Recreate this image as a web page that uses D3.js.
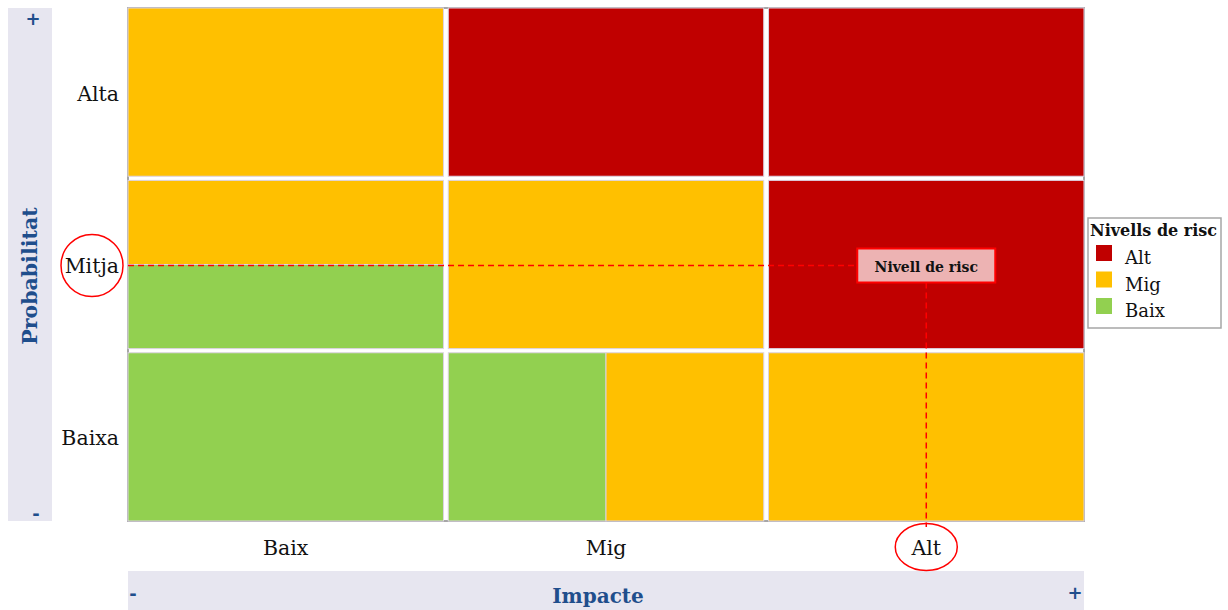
<!DOCTYPE html>
<html><head><meta charset="utf-8">
<script src="https://cdn.jsdelivr.net/npm/d3@7"></script>
<style>
html,body{margin:0;padding:0;background:#fff;}
svg{display:block;}
</style></head>
<body>
<svg id="chart" width="1228" height="610"></svg>
<script>
// ---- data ----
const impactCats = ["Baix", "Mig", "Alt"];
const probCats = ["Alta", "Mitja", "Baixa"];
const riskLevels = ["Alt", "Mig", "Baix"];
const riskColors = ["#C00000", "#FFC000", "#92D050"];
// each cell: impact, probability, split direction, parts (level, share)
const cells = [
  {impact: "Baix", prob: "Alta",  dir: "v", parts: [["Mig", 1]]},
  {impact: "Mig",  prob: "Alta",  dir: "v", parts: [["Alt", 1]]},
  {impact: "Alt",  prob: "Alta",  dir: "v", parts: [["Alt", 1]]},
  {impact: "Baix", prob: "Mitja", dir: "v", parts: [["Mig", 0.5], ["Baix", 0.5]]},
  {impact: "Mig",  prob: "Mitja", dir: "v", parts: [["Mig", 1]]},
  {impact: "Alt",  prob: "Mitja", dir: "v", parts: [["Alt", 1]]},
  {impact: "Baix", prob: "Baixa", dir: "h", parts: [["Baix", 1]]},
  {impact: "Mig",  prob: "Baixa", dir: "h", parts: [["Baix", 0.5], ["Mig", 0.5]]},
  {impact: "Alt",  prob: "Baixa", dir: "h", parts: [["Mig", 1]]}
];
const marker = {impact: "Alt", prob: "Mitja", label: "Nivell de risc"};
const axisTitles = {x: "Impacte", y: "Probabilitat", legend: "Nivells de risc"};

// ---- drawing ----
const svg = d3.select("#chart");
const serif = "'DejaVu Serif', 'Liberation Serif', serif";
const blue = "#1F4E8C";
const plot = {x0: 128, x1: 1084, y0: 8, y1: 521};

const x = d3.scaleBand().domain(impactCats).range([plot.x0, plot.x1]).paddingInner(0.015);
const y = d3.scaleBand().domain(probCats).range([plot.y0, plot.y1]).paddingInner(0.024);
const color = d3.scaleOrdinal().domain(riskLevels).range(riskColors);

// side bands
svg.append("rect").attr("x", 8).attr("y", 8).attr("width", 44).attr("height", 513).attr("fill", "#E7E6F0");
svg.append("rect").attr("x", plot.x0).attr("y", 571).attr("width", plot.x1 - plot.x0).attr("height", 39).attr("fill", "#E7E6F0");

// plot frame
svg.append("rect").attr("x", plot.x0).attr("y", plot.y0)
  .attr("width", plot.x1 - plot.x0).attr("height", plot.y1 - plot.y0)
  .attr("fill", "#fff").attr("stroke", "#A6A6A6").attr("stroke-width", 2);

// cells
const segs = [];
cells.forEach(c => {
  const cx = x(c.impact), cy = y(c.prob), w = x.bandwidth(), h = y.bandwidth();
  let acc = 0;
  c.parts.forEach(([lvl, share]) => {
    if (c.dir === "v") segs.push({lvl, x: cx, y: cy + acc * h, w, h: share * h});
    else segs.push({lvl, x: cx + acc * w, y: cy, w: share * w, h});
    acc += share;
  });
});
svg.append("g").selectAll("rect").data(segs).join("rect")
  .attr("x", d => d.x).attr("y", d => d.y).attr("width", d => d.w).attr("height", d => d.h)
  .attr("fill", d => color(d.lvl)).attr("stroke", "#DCD3E3").attr("stroke-width", 1);

// axis labels
const yAxis = d3.axisLeft(y).tickSize(0).tickPadding(9);
const gy = svg.append("g").attr("transform", `translate(${plot.x0},2)`).call(yAxis);
gy.select(".domain").remove();
gy.selectAll("text").attr("font-family", serif).attr("font-size", 20.5).attr("fill", "#111");

const xAxis = d3.axisBottom(x).tickSize(0).tickPadding(19);
const gx = svg.append("g").attr("transform", `translate(0,${plot.y1})`).call(xAxis);
gx.select(".domain").remove();
gx.selectAll("text").attr("font-family", serif).attr("font-size", 20.5).attr("fill", "#111");

// +/- signs and titles
const sign = (sx, sy, t) => svg.append("text").attr("x", sx).attr("y", sy).attr("text-anchor", "middle")
  .attr("dominant-baseline", "central").attr("font-family", "'DejaVu Sans', sans-serif")
  .attr("font-weight", "bold").attr("font-size", 18).attr("fill", blue).text(t);
sign(33, 18, "+"); sign(36, 513, "-"); sign(133, 593, "-"); sign(1075, 592, "+");

svg.append("text").attr("transform", "translate(30,276) rotate(-90)").attr("text-anchor", "middle")
  .attr("dominant-baseline", "central").attr("font-family", serif).attr("font-weight", "bold")
  .attr("font-size", 20.5).attr("fill", blue).text(axisTitles.y);
svg.append("text").attr("x", 598).attr("y", 596).attr("text-anchor", "middle")
  .attr("dominant-baseline", "central").attr("font-family", serif).attr("font-weight", "bold")
  .attr("font-size", 20).attr("fill", blue).text(axisTitles.x);

// marker
const mx = x(marker.impact) + x.bandwidth() / 2;
const my = y(marker.prob) + y.bandwidth() / 2 + 1;
const bw = 138, bh = 34;
svg.append("line").attr("x1", plot.x0).attr("x2", mx - bw / 2).attr("y1", my).attr("y2", my)
  .attr("stroke", "#FF0000").attr("stroke-width", 1.5).attr("stroke-dasharray", "6,4");
svg.append("line").attr("x1", mx).attr("x2", mx).attr("y1", my + bh / 2).attr("y2", plot.y1 + 6)
  .attr("stroke", "#FF0000").attr("stroke-width", 1.5).attr("stroke-dasharray", "6,4");
svg.append("rect").attr("x", mx - bw / 2).attr("y", my - bh / 2).attr("width", bw).attr("height", bh)
  .attr("fill", "#EDB3B3").attr("stroke", "#FF0000").attr("stroke-width", 2);
svg.append("text").attr("x", mx).attr("y", my + 1).attr("text-anchor", "middle").attr("dominant-baseline", "central")
  .attr("font-family", serif).attr("font-weight", "bold").attr("font-size", 14).attr("fill", "#111").text(marker.label);

// circles around matching labels
svg.append("ellipse").attr("cx", 92).attr("cy", my).attr("rx", 31).attr("ry", 31)
  .attr("fill", "none").attr("stroke", "#FF0000").attr("stroke-width", 1.5);
svg.append("ellipse").attr("cx", mx).attr("cy", 547).attr("rx", 31).attr("ry", 23.5)
  .attr("fill", "none").attr("stroke", "#FF0000").attr("stroke-width", 1.5);

// legend
const lg = svg.append("g");
lg.append("rect").attr("x", 1088).attr("y", 218).attr("width", 133).attr("height", 110)
  .attr("fill", "#fff").attr("stroke", "#A6A6A6").attr("stroke-width", 1.5);
lg.append("text").attr("x", 1090).attr("y", 236).attr("font-family", serif).attr("font-weight", "bold")
  .attr("font-size", 16).attr("fill", "#111").text(axisTitles.legend);
const items = lg.selectAll("g.item").data(riskLevels).join("g").attr("class", "item")
  .attr("transform", (d, i) => `translate(1096,${245 + i * 26.5})`);
items.append("rect").attr("width", 16).attr("height", 16).attr("fill", d => color(d));
items.append("text").attr("x", 29).attr("y", 19).attr("font-family", serif).attr("font-size", 18)
  .attr("fill", "#111").text(d => d);
</script>
</body></html>
